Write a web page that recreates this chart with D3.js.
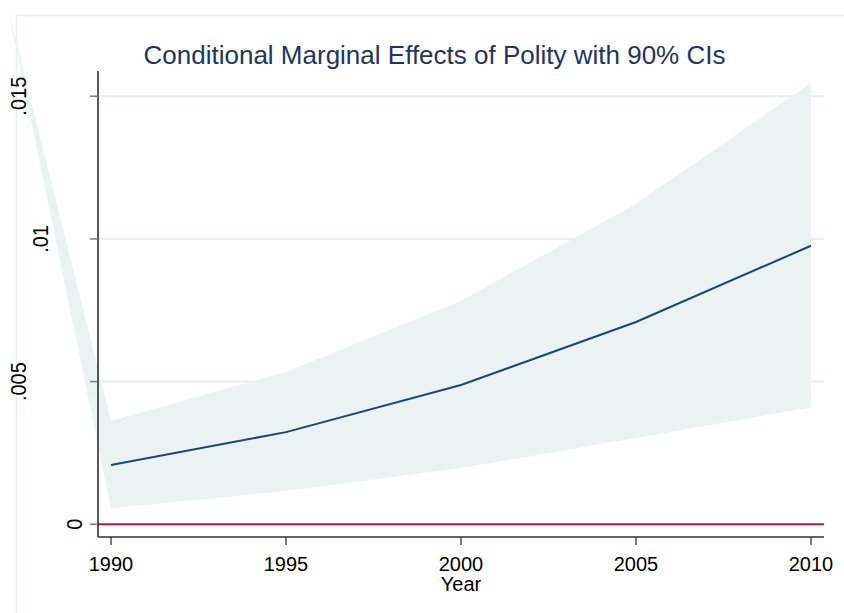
<!DOCTYPE html>
<html>
<head>
<meta charset="utf-8">
<script src="https://cdn.jsdelivr.net/npm/d3@7"></script>
<style>
  body { margin: 0; background: #fff; }
  text { font-family: "Liberation Sans", Arial, sans-serif; }
</style>
</head>
<body>
<svg id="chart" width="844" height="613"></svg>
<script>
// values
const years = [1990, 1995, 2000, 2005, 2010];
const effect = [0.00208, 0.00323, 0.00488, 0.00709, 0.00976];
const upper = [0.00363, 0.00534, 0.00783, 0.01123, 0.01546];
const lower = [0.00056, 0.00117, 0.00197, 0.00302, 0.0041];
// stray vertex of the CI polygon (drawn off to the top-left in the original)
const strayPoint = [1987.06, 0.01806];

const xTicks = [1990, 1995, 2000, 2005, 2010];
const yTicks = [0, 0.005, 0.01, 0.015];
const yTickLabels = ["0", ".005", ".01", ".015"];

const TITLE = "Conditional Marginal Effects of Polity with 90% CIs";
const X_TITLE = "Year";

const width = 844;
const height = 613;
const plotLeft = 98;
const plotRight = 824;
const plotTop = 71;
const plotBottom = 537;

const svg = d3.select("#chart");

const x = d3.scaleLinear().domain([1990, 2010]).range([111, 811]);
const y = d3.scaleLinear().domain([0, 0.015]).range([524.3, 96.2]);

// outer light frame
svg.append("rect")
  .attr("x", 16.5)
  .attr("y", 15.5)
  .attr("width", width)
  .attr("height", height)
  .attr("fill", "none")
  .attr("stroke", "#e6eef0")
  .attr("stroke-width", 1.5);

// gridlines (not at zero - the red line goes there)
svg.append("g")
  .selectAll("line")
  .data(yTicks.filter((d) => d !== 0))
  .enter()
  .append("line")
  .attr("x1", plotLeft)
  .attr("x2", plotRight)
  .attr("y1", (d) => y(d))
  .attr("y2", (d) => y(d))
  .attr("stroke", "#e6eef0")
  .attr("stroke-width", 2);

// CI band, including the stray vertex
const bandPts = [strayPoint]
  .concat(years.map((yr, i) => [yr, upper[i]]))
  .concat(years.map((yr, i) => [yr, lower[i]]).reverse());
svg.append("path")
  .attr("d", d3.line().x((d) => x(d[0])).y((d) => y(d[1]))(bandPts) + "Z")
  .attr("fill", "#eaf2f2")
  .attr("stroke", "none");

// zero reference line
svg.append("line")
  .attr("x1", plotLeft)
  .attr("x2", plotRight)
  .attr("y1", y(0))
  .attr("y2", y(0))
  .attr("stroke", "#c8153f")
  .attr("stroke-width", 2);

// marginal effect line
svg.append("path")
  .datum(years.map((yr, i) => [yr, effect[i]]))
  .attr("d", d3.line().x((d) => x(d[0])).y((d) => y(d[1])))
  .attr("fill", "none")
  .attr("stroke", "#1a476f")
  .attr("stroke-width", 2);

// y axis
svg.append("line")
  .attr("x1", plotLeft)
  .attr("x2", plotLeft)
  .attr("y1", plotTop)
  .attr("y2", plotBottom)
  .attr("stroke", "#000")
  .attr("stroke-width", 1.3);
svg.append("g")
  .selectAll("line")
  .data(yTicks)
  .enter()
  .append("line")
  .attr("x1", plotLeft - 8)
  .attr("x2", plotLeft)
  .attr("y1", (d) => y(d))
  .attr("y2", (d) => y(d))
  .attr("stroke", "#777")
  .attr("stroke-width", 1.5);

// rotated y labels - Stata pushes the longer ones further left
svg.append("g")
  .selectAll("text")
  .data(yTicks)
  .enter()
  .append("text")
  .text((d, i) => yTickLabels[i])
  .attr("text-anchor", "middle")
  .style("font-size", "20px")
  .attr("fill", "#000")
  .each(function (d) {
    const len = this.getComputedTextLength();
    const bx = plotLeft + 6 - 2 * len;
    d3.select(this).attr("transform", `translate(${bx}, ${y(d)}) rotate(-90) scale(1, 1.12)`);
  });

// x axis
svg.append("line")
  .attr("x1", plotLeft)
  .attr("x2", plotRight)
  .attr("y1", plotBottom)
  .attr("y2", plotBottom)
  .attr("stroke", "#333")
  .attr("stroke-width", 1.3);
const xg = svg.append("g");
xg.selectAll("line")
  .data(xTicks)
  .enter()
  .append("line")
  .attr("x1", (d) => x(d))
  .attr("x2", (d) => x(d))
  .attr("y1", plotBottom)
  .attr("y2", plotBottom + 8)
  .attr("stroke", "#333")
  .attr("stroke-width", 1.3);
xg.selectAll("text")
  .data(xTicks)
  .enter()
  .append("text")
  .attr("x", (d) => x(d))
  .attr("y", 571)
  .attr("text-anchor", "middle")
  .style("font-size", "20px")
  .attr("fill", "#000")
  .text((d) => d);

svg.append("text")
  .attr("x", (plotLeft + plotRight) / 2)
  .attr("y", 591)
  .attr("text-anchor", "middle")
  .style("font-size", "20px")
  .attr("fill", "#000")
  .text(X_TITLE);

// title
svg.append("text")
  .attr("x", 434.5)
  .attr("y", 64)
  .attr("text-anchor", "middle")
  .style("font-size", "26px")
  .attr("fill", "#1f3461")
  .text(TITLE);
</script>
</body>
</html>
